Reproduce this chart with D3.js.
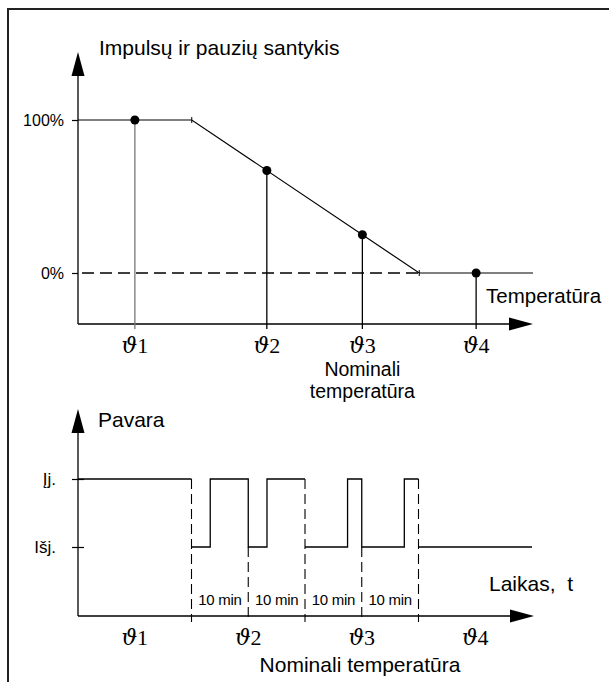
<!DOCTYPE html>
<html>
<head>
<meta charset="utf-8">
<script src="https://cdn.jsdelivr.net/npm/d3@7"></script>
<style>
    body { margin: 0; background: #fff; }
    svg { display: block; }
    text { font-family: "Liberation Sans", Arial, sans-serif; fill: #000; }
</style>
</head>
<body>
<svg id="chart" width="609" height="682"></svg>
<script>
// Top chart: pulse/pause ratio against temperature
const tempNames = ['1', '2', '3', '4'];
const tempPoints = [12.5, 41.5, 62.5, 87.5];
const ratioValues = [100, 67, 25, 0];
const curveTemps = [0, 25, 75, 100];
const curveRatios = [100, 100, 0, 0];
const ratioTicks = [0, 100];

// Bottom chart: drive state against time (minutes)
const signalTimes = [0, 20, 23.3, 30, 33.3, 40, 47.5, 50, 57.5, 60, 80];
const signalStates = [1, 0, 1, 0, 1, 0, 1, 0, 1, 0, 0];
const regionBounds = [0, 20, 40, 60, 80];
const dividerTimes = [20, 30, 40, 50, 60];
const stateTicks = [1, 0];
const stateLabels = ['Įj.', 'Išj.'];

const svg = d3.select('#chart');

// frame (left and top edges only)
svg.append('path')
    .attr('d', 'M8,682V9H609')
    .attr('fill', 'none')
    .attr('stroke', '#222')
    .attr('stroke-width', 2);

function arrowUp(g, x, tip) {
    g.append('path')
        .attr('d', `M${x},${tip}L${x - 6.5},${tip + 24}L${x + 6.5},${tip + 24}Z`)
        .attr('fill', '#000');
}

function arrowRight(g, tip, y) {
    g.append('path')
        .attr('d', `M${tip},${y}L${tip - 24},${y - 6.5}L${tip - 24},${y + 6.5}Z`)
        .attr('fill', '#000');
}

function thetaLabel(g, x, y, idx) {
    const t = g.append('text')
        .attr('x', x)
        .attr('y', y)
        .attr('text-anchor', 'middle')
        .style('font-size', '22px');
    t.append('tspan')
        .style('font-family', '"DejaVu Serif", serif')
        .style('font-style', 'italic')
        .text('ϑ');
    t.append('tspan')
        .style('font-family', '"Liberation Serif", serif')
        .text(idx);
}

// ---------- top chart ----------
const tx = d3.scaleLinear().domain([0, 100]).range([78, 533]);
const ty = d3.scaleLinear().domain([0, 100]).range([273, 120]);
const topG = svg.append('g');
const topAxisY = 324;

// axes
topG.append('line')
    .attr('x1', tx(0)).attr('x2', tx(0))
    .attr('y1', topAxisY).attr('y2', 60)
    .attr('stroke', '#000').attr('stroke-width', 1.3);
arrowUp(topG, tx(0), 52);
topG.append('line')
    .attr('x1', tx(0)).attr('x2', tx(100) - 10)
    .attr('y1', topAxisY).attr('y2', topAxisY)
    .attr('stroke', '#000').attr('stroke-width', 1.3);
arrowRight(topG, tx(100), topAxisY);

const ratioAxis = topG.append('g')
    .attr('transform', `translate(${tx(0)},0)`)
    .call(d3.axisLeft(ty).tickValues(ratioTicks).tickSize(6).tickPadding(8).tickFormat(d => d + '%'));
ratioAxis.select('.domain').remove();
ratioAxis.selectAll('line').attr('stroke-width', 1.2);
ratioAxis.selectAll('text')
    .style('font-family', '"Liberation Sans", Arial, sans-serif')
    .style('font-size', '16px')
    .attr('dy', '0.36em');

// dashed 0% reference up to the lower break point
topG.append('line')
    .attr('x1', tx(0) + 4).attr('x2', tx(curveTemps[2]))
    .attr('y1', ty(0)).attr('y2', ty(0))
    .attr('stroke', '#000').attr('stroke-width', 1.3)
    .attr('stroke-dasharray', '12,6');

// ratio curve
topG.append('path')
    .datum(curveTemps.map((t, i) => [t, curveRatios[i]]))
    .attr('d', d3.line().x(d => tx(d[0])).y(d => ty(d[1])))
    .attr('fill', 'none')
    .attr('stroke', '#000')
    .attr('stroke-width', 1.2);

// small marks at the break points
[1, 2].forEach(i => {
    topG.append('line')
        .attr('x1', tx(curveTemps[i])).attr('x2', tx(curveTemps[i]))
        .attr('y1', ty(curveRatios[i]) - 3).attr('y2', ty(curveRatios[i]) + 3)
        .attr('stroke', '#000').attr('stroke-width', 1);
});

// stems and dots
topG.selectAll('.stem')
    .data(tempPoints)
    .join('line')
    .attr('class', 'stem')
    .attr('x1', d => tx(d)).attr('x2', d => tx(d))
    .attr('y1', (d, i) => ty(ratioValues[i]))
    .attr('y2', topAxisY + 5)
    .attr('stroke', (d, i) => i === 0 ? '#777' : '#000')
    .attr('stroke-width', 1.3);

topG.selectAll('.dot')
    .data(tempPoints)
    .join('circle')
    .attr('class', 'dot')
    .attr('cx', d => tx(d))
    .attr('cy', (d, i) => ty(ratioValues[i]))
    .attr('r', 4.5)
    .attr('fill', '#000');

tempPoints.forEach((t, i) => thetaLabel(topG, tx(t), 353, tempNames[i]));

topG.append('text').attr('x', 99).attr('y', 55)
    .style('font-size', '21px').text('Impulsų ir pauzių santykis');
topG.append('text').attr('x', 486).attr('y', 303)
    .style('font-size', '20.5px').text('Temperatūra');

// two-line caption under the nominal temperature
topG.append('text').attr('x', tx(tempPoints[2])).attr('y', 376)
    .attr('text-anchor', 'middle').style('font-size', '19.5px').text('Nominali');
topG.append('text').attr('x', tx(tempPoints[2])).attr('y', 398)
    .attr('text-anchor', 'middle').style('font-size', '19.5px').text('temperatūra');

// ---------- bottom chart ----------
const bx = d3.scaleLinear().domain([0, 80]).range([78, 532]);
const by = d3.scaleLinear().domain([0, 1]).range([547, 479]);
const bottomG = svg.append('g');
const botAxisY = 616;

bottomG.append('line')
    .attr('x1', bx(0)).attr('x2', bx(0))
    .attr('y1', botAxisY).attr('y2', 417)
    .attr('stroke', '#000').attr('stroke-width', 1.3);
arrowUp(bottomG, bx(0), 409);
bottomG.append('line')
    .attr('x1', bx(0)).attr('x2', bx(80) - 10)
    .attr('y1', botAxisY).attr('y2', botAxisY)
    .attr('stroke', '#000').attr('stroke-width', 1.3);
arrowRight(bottomG, bx(80) + 2, botAxisY);

const stateAxis = bottomG.append('g')
    .attr('transform', `translate(${bx(0)},0)`)
    .call(d3.axisLeft(by).tickValues(stateTicks).tickSize(6).tickPadding(16)
        .tickFormat((d, i) => stateLabels[i]));
stateAxis.select('.domain').remove();
stateAxis.selectAll('line').attr('x2', -6).attr('x1', 6).attr('stroke-width', 1.2);
stateAxis.selectAll('text')
    .style('font-family', '"Liberation Sans", Arial, sans-serif')
    .style('font-size', '17px')
    .attr('dy', '0.3em');

// dashed dividers: region bounds start at the high level, mid marks at the low level
bottomG.selectAll('.divider')
    .data(dividerTimes)
    .join('line')
    .attr('class', 'divider')
    .attr('x1', d => bx(d)).attr('x2', d => bx(d))
    .attr('y1', d => regionBounds.includes(d) ? by(1) : by(0))
    .attr('y2', botAxisY + 6)
    .attr('stroke', '#000').attr('stroke-width', 1.1)
    .attr('stroke-dasharray', '10,5');

// signal, split at region bounds so the dashed transitions stay dashed
const stepLine = d3.line().x(d => bx(d[0])).y(d => by(d[1])).curve(d3.curveStepAfter);
for (let r = 0; r < regionBounds.length - 1; r++) {
    const a = regionBounds[r], b = regionBounds[r + 1];
    const pts = [];
    signalTimes.forEach((t, i) => {
        if (t >= a && t < b) pts.push([t, signalStates[i]]);
    });
    pts.push([b, pts[pts.length - 1][1]]);
    bottomG.append('path')
        .datum(pts)
        .attr('d', stepLine)
        .attr('fill', 'none')
        .attr('stroke', '#000')
        .attr('stroke-width', 1.3);
}

// 10 min labels
for (let i = 0; i < dividerTimes.length - 1; i++) {
    bottomG.append('text')
        .attr('x', bx((dividerTimes[i] + dividerTimes[i + 1]) / 2))
        .attr('y', 605)
        .attr('text-anchor', 'middle')
        .style('font-size', '15px')
        .style('letter-spacing', '-0.3px')
        .text('10 min');
}

for (let r = 0; r < regionBounds.length - 1; r++) {
    thetaLabel(bottomG, bx((regionBounds[r] + regionBounds[r + 1]) / 2), 645, tempNames[r]);
}

bottomG.append('text').attr('x', 98).attr('y', 427)
    .style('font-size', '21px').text('Pavara');
bottomG.append('text').attr('x', 489).attr('y', 591)
    .style('font-size', '21px').text('Laikas,\u00a0 t');
bottomG.append('text').attr('x', 360).attr('y', 672)
    .attr('text-anchor', 'middle').style('font-size', '21px').text('Nominali temperatūra');
</script>
</body>
</html>
